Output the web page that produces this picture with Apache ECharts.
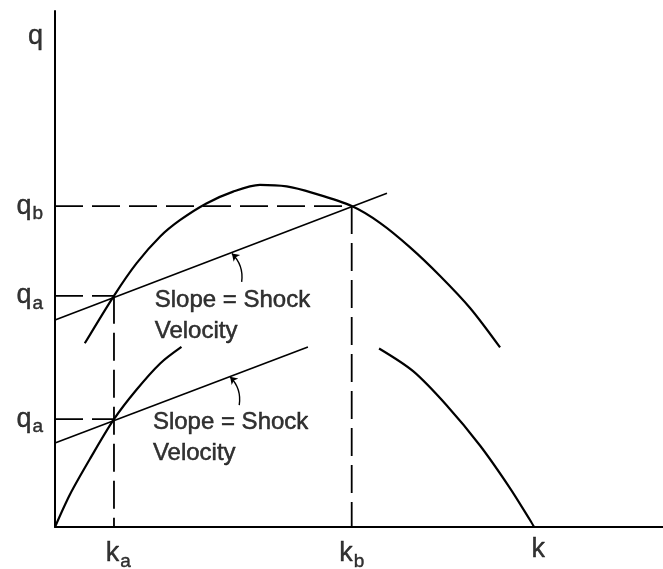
<!DOCTYPE html>
<html>
<head>
<meta charset="utf-8">
<script src="https://cdn.jsdelivr.net/npm/echarts@6/dist/echarts.min.js"></script>
<style>
  html, body { margin: 0; padding: 0; background: #fff; }
  #chart { width: 663px; height: 569px; }
</style>
</head>
<body>
<div id="chart"></div>
<script>
// key points (k = density, q = flow)
const kA = 9.7, kB = 48.8;
const qB = 62.2, qAUpper = 44.8, qALower = 20.9;

// q-k curve, upper copy (a fragment around the crest)
const upperCurve = [
  [4.9, 35.6], [9.8, 45.0], [13.4, 51.1], [17.3, 56.3], [20.6, 59.5],
  [24.9, 62.7], [29.3, 65.0], [33.7, 66.3], [38.1, 66.0], [42.5, 64.7],
  [48.8, 62.2], [53.5, 58.9], [58.4, 54.2], [63.3, 48.7], [68.3, 42.4], [73.2, 34.8]
];
// q-k curve, lower copy (drawn in two pieces, the crest left out)
const lowerCurveLeft = [
  [0, 0], [2.5, 6.4], [5.8, 13.3], [9.7, 20.9], [13.4, 26.6], [17.3, 31.7], [20.8, 34.9]
];
const lowerCurveRight = [
  [53.3, 34.6], [58.9, 30.2], [64.4, 23.6], [69.9, 15.8], [74.8, 7.6], [78.1, 1.4], [78.8, 0]
];
// shock lines (chords)
const upperShock = [[0, 40.1], [54.6, 64.7]];
const lowerShock = [[0, 16.3], [41.6, 34.9]];
// small arrows pointing at the chords: [tail, head]
const upperArrow = [[30.7, 47.5], [29.1, 53.0]];
const lowerArrow = [[30.3, 23.6], [28.8, 29.1]];

// tick labels
const xTicks = [
  { k: 10.4, text: '{m|k}{s|a}' },
  { k: kB, text: '{m|k}{s|b}' },
  { k: 79.5, text: '{m|k}' }
];
const yTicks = [
  { q: 95, text: '{m|q}' },
  { q: qB, text: '{m|q}{s|b}' },
  { q: qAUpper, text: '{m|q}{s|a}' },
  { q: qALower, text: '{m|q}{s|a}' }
];
const notes = [
  { k: 16.4, q: 46.9 },
  { k: 16.1, q: 23.2 }
];

const ink = '#000';
const font = 'Liberation Sans, Arial, sans-serif';
const dash = [28, 9];

function plain(data, width, type) {
  return {
    type: 'line', data: data, showSymbol: false, silent: true,
    lineStyle: { color: ink, width: width, type: type || 'solid' }
  };
}
function curve(data) {
  let s = plain(data, 2.2);
  s.smooth = 0.3;
  return s;
}

const rich = {
  m: { fontSize: 27, color: ink, fontFamily: font, textBorderColor: ink, textBorderWidth: 0.4 },
  s: { fontSize: 19, color: ink, fontFamily: font, textBorderColor: ink, textBorderWidth: 0.4, padding: [16, 0, 0, 1] }
};

var chart = echarts.init(document.getElementById('chart'));
chart.setOption({
  backgroundColor: '#fff',
  animation: false,
  grid: { left: 55, top: 11, right: 0, bottom: 42 },
  xAxis: {
    type: 'value', min: 0, max: 100,
    axisLine: { show: true, onZero: false, lineStyle: { color: ink, width: 2 } },
    axisTick: { show: false }, axisLabel: { show: false }, splitLine: { show: false }
  },
  yAxis: {
    type: 'value', min: 0, max: 100,
    axisLine: { show: true, onZero: false, lineStyle: { color: ink, width: 2 } },
    axisTick: { show: false }, axisLabel: { show: false }, splitLine: { show: false }
  },
  series: [
    curve(upperCurve),
    curve(lowerCurveLeft),
    curve(lowerCurveRight),
    plain(upperShock, 1.6),
    plain(lowerShock, 1.6),
    plain([[0, qB], [kB, qB]], 1.8, dash),
    plain([[kB, qB], [kB, 0]], 1.8, dash),
    plain([[0, qAUpper], [kA, qAUpper]], 1.8, dash),
    plain([[kA, qAUpper], [kA, 0]], 1.8, dash),
    plain([[0, qALower], [kA, qALower]], 1.8, dash),
    {
      type: 'lines', coordinateSystem: 'cartesian2d', silent: true,
      symbol: ['none', 'arrow'], symbolSize: 7,
      lineStyle: { color: ink, width: 1.4, curveness: -0.25, opacity: 1 },
      data: [{ coords: upperArrow }, { coords: lowerArrow }]
    },
    {
      type: 'scatter', symbolSize: 0, silent: true,
      data: xTicks.map(t => ({ value: [t.k, 0], label: { formatter: t.text } })),
      label: { show: true, position: 'bottom', distance: 9, rich: rich }
    },
    {
      type: 'scatter', symbolSize: 0, silent: true,
      data: yTicks.map(t => ({ value: [0, t.q], label: { formatter: t.text } })),
      label: { show: true, position: 'left', distance: 12, rich: rich }
    },
    {
      type: 'scatter', symbolSize: 0, silent: true,
      data: notes.map(n => [n.k, n.q]),
      label: {
        show: true, position: [0, 0], align: 'left', verticalAlign: 'top',
        formatter: 'Slope = Shock\nVelocity',
        fontSize: 24, lineHeight: 31, color: ink, fontFamily: font,
        textBorderColor: ink, textBorderWidth: 0.5
      }
    }
  ]
});
</script>
</body>
</html>
